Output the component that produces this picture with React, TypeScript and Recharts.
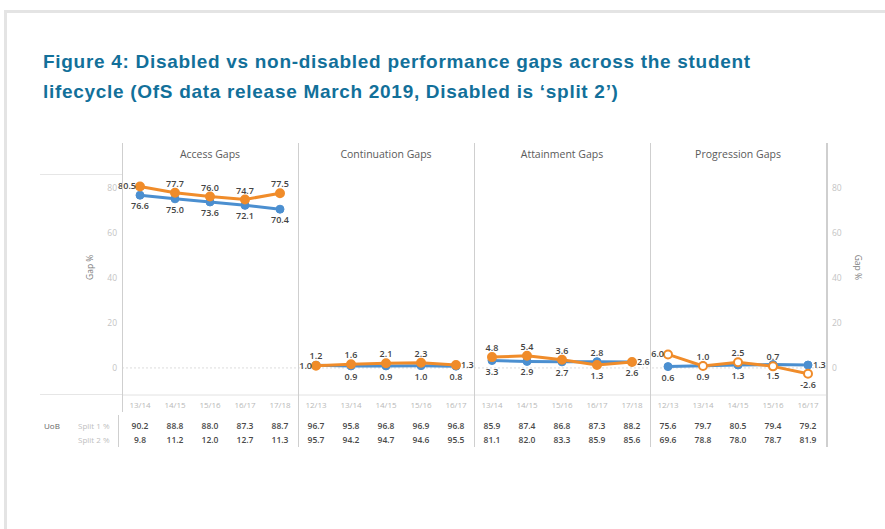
import { LineChart, Line, XAxis, YAxis, ReferenceLine, LabelList } from "recharts";

const ORANGE = "#f08c2a";
const BLUE = "#4b8fd0";
const FONT = "'Open Sans', sans-serif";

// years for each panel
const accessYears = ["13/14", "14/15", "15/16", "16/17", "17/18"];
const continuationYears = ["12/13", "13/14", "14/15", "15/16", "16/17"];
const attainmentYears = ["13/14", "14/15", "15/16", "16/17", "17/18"];
const progressionYears = ["12/13", "13/14", "14/15", "15/16", "16/17"];

// gap % (orange = UoB, blue = sector)
const accessUob = [80.5, 77.7, 76.0, 74.7, 77.5];
const accessSector = [76.6, 75.0, 73.6, 72.1, 70.4];
const continuationUob = [1.0, 1.6, 2.1, 2.3, 1.3];
const continuationSector = [1.2, 0.9, 0.9, 1.0, 0.8];
const attainmentUob = [4.8, 5.4, 3.6, 1.3, 2.6];
const attainmentSector = [3.3, 2.9, 2.7, 2.8, 2.6];
const progressionUob = [6.0, 0.9, 2.5, 0.7, -2.6];
const progressionSector = [0.6, 1.0, 1.3, 1.5, 1.3];

// table rows
const accessSplit1 = [90.2, 88.8, 88.0, 87.3, 88.7];
const accessSplit2 = [9.8, 11.2, 12.0, 12.7, 11.3];
const continuationSplit1 = [96.7, 95.8, 96.8, 96.9, 96.8];
const continuationSplit2 = [95.7, 94.2, 94.7, 94.6, 95.5];
const attainmentSplit1 = [85.9, 87.4, 86.8, 87.3, 88.2];
const attainmentSplit2 = [81.1, 82.0, 83.3, 85.9, 85.6];
const progressionSplit1 = [75.6, 79.7, 80.5, 79.4, 79.2];
const progressionSplit2 = [69.6, 78.8, 78.0, 78.7, 81.9];

// which side of the point each value label sits (t/b/l/r)
const accessUobSide = ["l", "t", "t", "t", "t"];
const accessSectorSide = ["b", "b", "b", "b", "b"];
const continuationUobSide = ["l", "t", "t", "t", "r"];
const continuationSectorSide = ["t", "b", "b", "b", "b"];
const attainmentUobSide = ["t", "t", "t", "b", "r"];
const attainmentSectorSide = ["b", "b", "b", "t", "b"];
const progressionUobSide = ["l", "b", "t", "t", "b"];
const progressionSectorSide = ["b", "t", "b", "b", "r"];

const yTicks = [0, 20, 40, 60, 80];

const PANEL_W = 176;
const AXIS_W = 40;
const TOP = 143;

function TableTick(props: any) {
  const { x, y, payload, index, split1, split2 } = props;
  const i = index ?? payload.index;
  return (
    <g fontFamily={FONT} textAnchor="middle">
      <text x={x} y={y + 13} fontSize={8} fill="#b8b8b8">
        {payload.value}
      </text>
      <text x={x} y={y + 34} fontSize={8.5} fontWeight={600} fill="#4a4a4a">
        {split1[i].toFixed(1)}
      </text>
      <text x={x} y={y + 48} fontSize={8.5} fontWeight={600} fill="#4a4a4a">
        {split2[i].toFixed(1)}
      </text>
    </g>
  );
}

function PointLabel(props: any) {
  const { x, y, index, value, sides } = props;
  const side = sides[index];
  let tx = x;
  let ty = y - 6;
  let anchor = "middle";
  if (side === "b") ty = y + 14;
  if (side === "l") {
    tx = x - 4;
    ty = y + 3;
    anchor = "end";
  }
  if (side === "r") {
    tx = x + 5;
    ty = y + 3;
    anchor = "start";
  }
  return (
    <text
      x={tx}
      y={ty}
      textAnchor={anchor}
      fontFamily={FONT}
      fontSize={9}
      fontWeight={600}
      fill="#444"
    >
      {Number(value).toFixed(1)}
    </text>
  );
}

function GapPanel(props: any) {
  const { title, years, uob, sector, split1, split2, uobSide, sectorSide, left, axis, hollow } = props;
  const data = years.map((yr: string, i: number) => ({ year: yr, uob: uob[i], sector: sector[i] }));
  const width = PANEL_W + (axis ? AXIS_W : 0);
  const chartLeft = axis === "left" ? left - AXIS_W : left;

  return (
    <>
      <div
        style={{
          position: "absolute",
          left,
          top: TOP + 4,
          width: PANEL_W,
          textAlign: "center",
          fontFamily: FONT,
          fontSize: 10.5,
          color: "#5a5a5a",
        }}
      >
        {title}
      </div>
      <div style={{ position: "absolute", left: chartLeft, top: TOP }}>
        <LineChart
          width={width}
          height={312}
          data={data}
          margin={{ top: 22, right: 0, bottom: 0, left: 0 }}
          style={{ overflow: "visible" }}
        >
          <XAxis
            dataKey="year"
            interval={0}
            height={60}
            tickLine={false}
            tickSize={0}
            tickMargin={0}
            axisLine={{ stroke: "#e2e2e2" }}
            padding={{ left: 18, right: 18 }}
            tick={(p: any) => <TableTick {...p} split1={split1} split2={split2} />}
          />
          {axis === "left" && (
            <YAxis
              orientation="left"
              width={AXIS_W}
              domain={[-12, 90]}
              ticks={yTicks}
              axisLine={false}
              tickLine={false}
              tickSize={0}
              tickMargin={5}
              tick={{ fontSize: 8.5, fill: "#c4c4c4", fontFamily: FONT }}
              label={{
                value: "Gap %",
                angle: -90,
                position: "insideLeft",
                offset: 8,
                style: { fontSize: 8.5, fill: "#7a7a7a", fontFamily: FONT },
              }}
            />
          )}
          {axis === "right" && (
            <YAxis
              orientation="right"
              width={AXIS_W}
              domain={[-12, 90]}
              ticks={yTicks}
              axisLine={false}
              tickLine={false}
              tickSize={0}
              tickMargin={6}
              tick={{ fontSize: 8.5, fill: "#c4c4c4", fontFamily: FONT, textAnchor: "start" }}
              label={{
                value: "Gap %",
                angle: 90,
                position: "insideRight",
                offset: 8,
                style: { fontSize: 8.5, fill: "#7a7a7a", fontFamily: FONT },
              }}
            />
          )}
          {!axis && <YAxis hide domain={[-12, 90]} />}
          <ReferenceLine y={0} stroke="#dcdcdc" strokeDasharray="2 2" />
          <Line
            dataKey="sector"
            stroke={BLUE}
            strokeWidth={3}
            dot={{ r: 4, fill: BLUE, stroke: BLUE, strokeWidth: 1 }}
            isAnimationActive={false}
          >
            <LabelList
              dataKey="sector"
              content={(p: any) => <PointLabel {...p} sides={sectorSide} />}
            />
          </Line>
          <Line
            dataKey="uob"
            stroke={ORANGE}
            strokeWidth={3}
            dot={{ r: 4, fill: hollow ? "#fff" : ORANGE, stroke: ORANGE, strokeWidth: 2 }}
            isAnimationActive={false}
          >
            <LabelList
              dataKey="uob"
              content={(p: any) => <PointLabel {...p} sides={uobSide} />}
            />
          </Line>
        </LineChart>
      </div>
    </>
  );
}

const vline = (x: number, top: number, bottom: number, w = 1) => (
  <div
    style={{
      position: "absolute",
      left: x,
      top,
      width: w,
      height: bottom - top,
      background: "#cfcfcf",
    }}
  />
);

export default function App() {
  const rowLabel = { position: "absolute" as const, fontFamily: FONT, fontSize: 8 };
  return (
    <div
      style={{
        position: "absolute",
        left: 0,
        top: 0,
        width: 885,
        height: 529,
        background: "#fff",
        overflow: "hidden",
      }}
    >
      <div style={{ position: "absolute", left: 4, top: 10, width: 881, height: 3, background: "#e4e4e4" }} />
      <div style={{ position: "absolute", left: 4, top: 10, width: 3, height: 519, background: "#e4e4e4" }} />
      <div
        style={{
          position: "absolute",
          left: 43,
          top: 47,
          width: 820,
          fontFamily: "'Liberation Sans', Arial, sans-serif",
          fontWeight: 700,
          fontSize: 19,
          letterSpacing: 0.7,
          lineHeight: "30px",
          color: "#12709a",
        }}
      >
        Figure 4: Disabled vs non-disabled performance gaps across the student
        <br />
        lifecycle (OfS data release March 2019, Disabled is ‘split 2’)
      </div>

      <div style={{ position: "absolute", left: 40, top: 174, width: 82, height: 1, background: "#e6e6e6" }} />
      <div style={{ position: "absolute", left: 40, top: 394, width: 82, height: 1, background: "#e6e6e6" }} />

      <GapPanel
        title="Access Gaps"
        years={accessYears}
        uob={accessUob}
        sector={accessSector}
        split1={accessSplit1}
        split2={accessSplit2}
        uobSide={accessUobSide}
        sectorSide={accessSectorSide}
        left={122}
        axis="left"
      />
      <GapPanel
        title="Continuation Gaps"
        years={continuationYears}
        uob={continuationUob}
        sector={continuationSector}
        split1={continuationSplit1}
        split2={continuationSplit2}
        uobSide={continuationUobSide}
        sectorSide={continuationSectorSide}
        left={298}
      />
      <GapPanel
        title="Attainment Gaps"
        years={attainmentYears}
        uob={attainmentUob}
        sector={attainmentSector}
        split1={attainmentSplit1}
        split2={attainmentSplit2}
        uobSide={attainmentUobSide}
        sectorSide={attainmentSectorSide}
        left={474}
      />
      <GapPanel
        title="Progression Gaps"
        years={progressionYears}
        uob={progressionUob}
        sector={progressionSector}
        split1={progressionSplit1}
        split2={progressionSplit2}
        uobSide={progressionUobSide}
        sectorSide={progressionSectorSide}
        left={650}
        axis="right"
        hollow
      />

      {vline(122, TOP, 412)}
      {vline(118, 415, 447)}
      {vline(298, TOP, 447)}
      {vline(474, TOP, 447)}
      {vline(650, TOP, 447)}
      {vline(826, TOP, 447, 2)}

      <div style={{ ...rowLabel, left: 44, top: 420, color: "#666" }}>UoB</div>
      <div style={{ ...rowLabel, left: 78, top: 420, color: "#c0c0c0" }}>Split 1 %</div>
      <div style={{ ...rowLabel, left: 78, top: 434, color: "#c0c0c0" }}>Split 2 %</div>
    </div>
  );
}
